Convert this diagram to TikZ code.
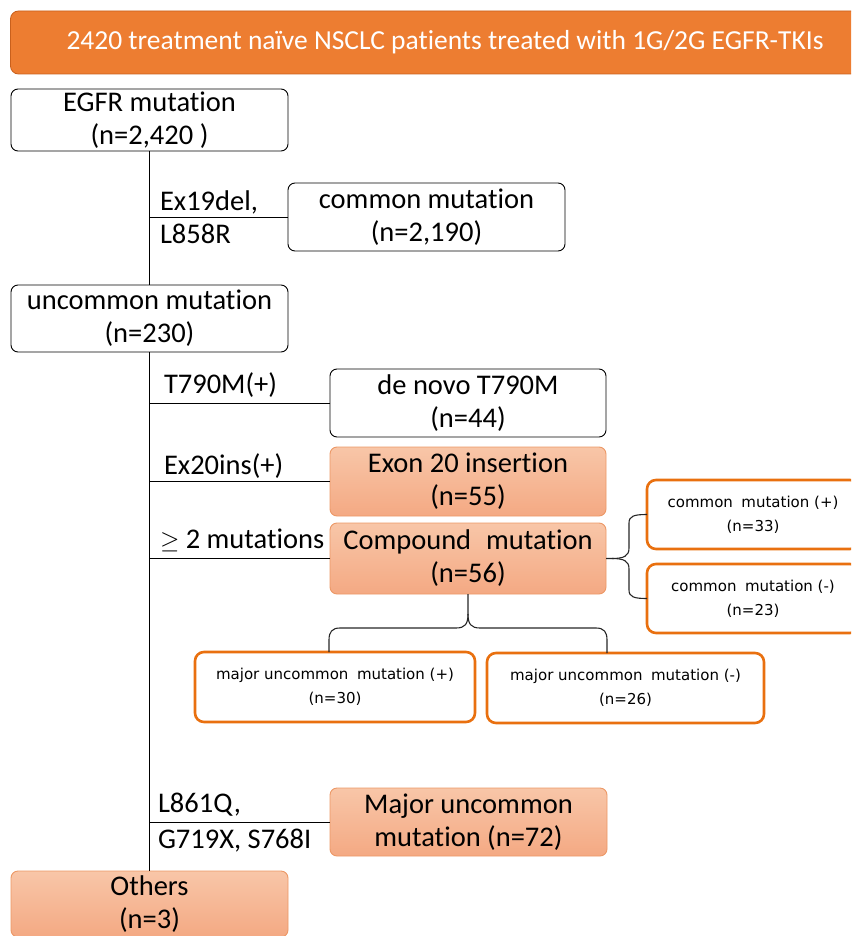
\documentclass[tikz,border=0pt]{standalone}
\usepackage{fontspec}
\setmainfont{Carlito}[RawFeature={-liga;-clig;-calt;-dlig}]
\newfontfamily\smallf{DejaVu Sans}
\usetikzlibrary{calc}
\definecolor{bannerc}{HTML}{ED7D31}
\definecolor{bannerd}{HTML}{C9601C}
\definecolor{salmontop}{HTML}{F8C6A8}
\definecolor{salmonbot}{HTML}{F4A983}
\definecolor{salmonline}{HTML}{EC9866}
\definecolor{orangeline}{HTML}{E9700F}
\begin{document}
\begin{tikzpicture}[x=1pt,y=-1pt,
  every node/.style={inner sep=0pt, outer sep=0pt},
  mainfont/.style={font=\fontsize{28.5}{33}\selectfont},
  wbox/.style={draw=black, line width=0.9pt, rounded corners=7pt, fill=white, align=center, mainfont},
  sbox/.style={draw=salmonline, line width=0.9pt, rounded corners=7pt, top color=salmontop, bottom color=salmonbot, align=center, mainfont},
  obox/.style={draw=orangeline, line width=2.6pt, rounded corners=9pt, fill=white, align=center, font=\smallf\fontsize{15}{24}\selectfont},
  lbl/.style={anchor=base west, mainfont},
  conn/.style={draw=black, line width=0.9pt},
  brace/.style={draw=black!85, line width=1.1pt}
]
\useasboundingbox (0,0) rectangle (851,936);
\clip (0,0) rectangle (851,936);

% banner
\node[fill=bannerc, draw=bannerd, line width=0.8pt, rounded corners=8pt,
      minimum width=869pt, minimum height=63pt, text=white,
      font=\fontsize{27.5}{30}\selectfont] (banner) at (445,42.5)
      {2420 treatment naïve NSCLC patients treated with 1G/2G EGFR-TKIs};

% boxes
\node[wbox, minimum width=277pt, minimum height=62pt] (egfr) at (149.5,120) {EGFR mutation\\(n=2,420 )};
\node[wbox, minimum width=277pt, minimum height=68pt] (common) at (426.5,217) {common mutation\\(n=2,190)};
\node[wbox, minimum width=277pt, minimum height=67pt] (uncommon) at (149.5,318.5) {uncommon mutation\\(n=230)};
\node[wbox, minimum width=276pt, minimum height=68pt] (denovo) at (468,403) {de novo T790M\\(n=44)};
\node[sbox, minimum width=276pt, minimum height=69pt] (exon) at (468,481.5) {Exon 20 insertion\\(n=55)};
\node[sbox, minimum width=276pt, minimum height=71pt] (compound) at (468,558.5) {Compound\hspace{0.3em} mutation\\(n=56)};
\node[obox, minimum width=212pt, minimum height=69pt] (plus) at (753,514.5) {common\hspace{0.25em} mutation (+)\\(n=33)};
\node[obox, minimum width=212pt, minimum height=69pt] (minus) at (753,598.5) {common\hspace{0.25em} mutation (-)\\(n=23)};
\node[obox, minimum width=280pt, minimum height=70pt] (majplus) at (335,687) {major uncommon\hspace{0.25em} mutation (+)\\(n=30)};
\node[obox, minimum width=277pt, minimum height=70pt] (majminus) at (625.5,688) {major uncommon\hspace{0.25em} mutation (-)\\(n=26)};
\node[sbox, minimum width=277pt, minimum height=68pt] (major) at (468.5,822) {Major uncommon\\mutation (n=72)};
\node[sbox, minimum width=277pt, minimum height=66pt] (others) at (149.5,904) {Others\\(n=3)};

% trunk
\draw[conn] (egfr.south) -- (uncommon.north);
\draw[conn] (uncommon.south) -- (others.north);

% branches
\draw[conn] (common.west) -- (common.west -| egfr.south);
\draw[conn] (denovo.west) -- (denovo.west -| egfr.south);
\draw[conn] (exon.west) -- (exon.west -| egfr.south);
\draw[conn] (compound.west) -- (compound.west -| egfr.south);
\draw[conn] (major.west) -- (major.west -| egfr.south);

% branch labels
\node[lbl] (l1a) at (160,210) {Ex19del,};
\node[lbl] (l1b) at (160,243) {L858R};
\node[lbl] (l2) at (164,393) {T790M(+)};
\node[lbl] (l3) at (164,474) {Ex20ins(+)};
\node[lbl] (l4) at (160,548) {$\geq$ 2 mutations};
\node[lbl] (l5a) at (158,812) {L861Q,};
\node[lbl] (l5b) at (158,848) {G719X, S768I};

% right brace
\draw[brace] (compound.east) -- (612,558.5)
  .. controls (624,558.5) and (629,556) .. (629,548) -- (629,523)
  .. controls (629,516) and (634,514.5) .. (plus.west);
\draw[brace] (612,558.5)
  .. controls (624,558.5) and (629,561) .. (629,569) -- (629,590)
  .. controls (629,597) and (634,598.5) .. (minus.west);

% bottom brace
\coordinate (bl) at (329,652);
\coordinate (br) at (607,653);
\draw[brace] (compound.south) -- (468,614)
  .. controls (468,624) and (465,628) .. (456,628) -- (340,628)
  .. controls (332,628) and (329,632) .. (329,640) -- (bl);
\draw[brace] (468,614)
  .. controls (468,624) and (471,628) .. (480,628) -- (596,628)
  .. controls (604,628) and (607,632) .. (607,640) -- (br);
\end{tikzpicture}
\end{document}
